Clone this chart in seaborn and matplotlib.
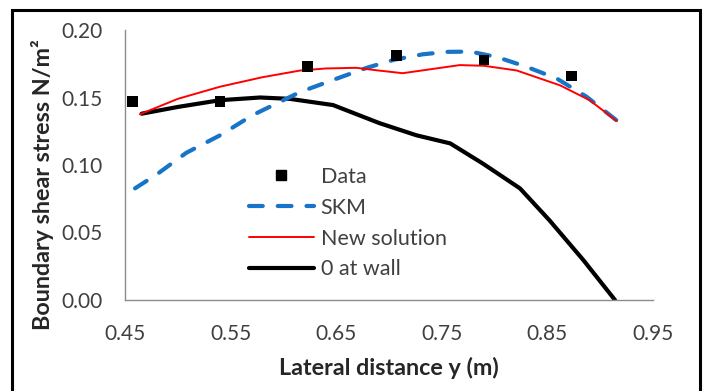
import matplotlib
matplotlib.use("Agg")
import matplotlib.pyplot as plt
import seaborn as sns
import pandas as pd
from matplotlib.patches import Rectangle
from matplotlib.lines import Line2D

# ---- data ----
data_x = [0.457, 0.540, 0.623, 0.707, 0.790, 0.873]
data_y = [0.147, 0.147, 0.173, 0.181, 0.178, 0.166]

skm_x = [0.4595, 0.48, 0.508, 0.540, 0.571, 0.6157, 0.647, 0.679, 0.705, 0.732,
         0.755, 0.777, 0.802, 0.830, 0.859, 0.887, 0.9156]
skm_y = [0.0827, 0.093, 0.109, 0.122, 0.137, 0.154, 0.163, 0.172, 0.178, 0.182,
         0.1838, 0.184, 0.180, 0.1728, 0.164, 0.1506, 0.133]

new_x = [0.4642, 0.50, 0.540, 0.58, 0.616, 0.64, 0.669, 0.69, 0.713, 0.74,
         0.767, 0.79, 0.821, 0.862, 0.89, 0.9156]
new_y = [0.1376, 0.149, 0.158, 0.165, 0.170, 0.1715, 0.172, 0.170, 0.168, 0.171,
         0.174, 0.1735, 0.170, 0.159, 0.148, 0.1326]

wall_x = [0.4658, 0.50, 0.540, 0.578, 0.606, 0.647, 0.691, 0.726, 0.758, 0.789,
          0.824, 0.852, 0.884, 0.914]
wall_y = [0.138, 0.143, 0.148, 0.150, 0.149, 0.1444, 0.131, 0.122, 0.116, 0.101,
          0.0827, 0.059, 0.0296, 0.0]

x_ticks = [0.45, 0.55, 0.65, 0.75, 0.85, 0.95]
y_ticks = [0.00, 0.05, 0.10, 0.15, 0.20]
x_label = "Lateral distance y (m)"
y_label = "Boundary shear stress N/m²"
labels = ["Data", "SKM", "New solution", "0 at wall"]

# ---- style ----
sns.set_style("white")
plt.rcParams["font.family"] = ["Lato", "DejaVu Sans"]

fig = plt.figure(figsize=(7.07, 3.91), dpi=100)
ax = fig.add_axes([125/707, 1-300/391, (653-125)/707, 270/391])

blue = "#1874C8"
red = "#FF0000"
dash = [3.3, 3.6]
df_skm = pd.DataFrame({"x": skm_x, "y": skm_y})
df_new = pd.DataFrame({"x": new_x, "y": new_y})
df_wall = pd.DataFrame({"x": wall_x, "y": wall_y})
df_data = pd.DataFrame({"x": data_x, "y": data_y})

sns.lineplot(data=df_wall, x="x", y="y", ax=ax, color="black", lw=3.0,
             sort=False, estimator=None, zorder=2)
sns.lineplot(data=df_skm, x="x", y="y", ax=ax, color=blue, lw=3.0,
             sort=False, estimator=None, zorder=3)
ax.lines[-1].set_dashes(dash)
ax.lines[-1].set_dash_capstyle("round")
sns.lineplot(data=df_new, x="x", y="y", ax=ax, color=red, lw=1.4,
             sort=False, estimator=None, zorder=4)
sns.scatterplot(data=df_data, x="x", y="y", ax=ax, color="black", marker="s",
                s=56, edgecolor="none", zorder=5)

ax.set_xlim(0.45, 0.95)
ax.set_ylim(0.0, 0.20)
ax.set_xticks(x_ticks)
ax.set_xticklabels([f"{v:.2f}" for v in x_ticks])
ax.set_yticks(y_ticks)
ax.set_yticklabels([f"{v:.2f}" for v in y_ticks])

for s in ["top", "right"]:
    ax.spines[s].set_visible(False)
for s in ["left", "bottom"]:
    ax.spines[s].set_color("#8C8C8C")
    ax.spines[s].set_linewidth(1.0)

ax.tick_params(axis="both", direction="out", length=6, width=1.0,
               color="#8C8C8C", labelsize=15, labelcolor="#404040")
ax.tick_params(axis="y", pad=10)
ax.tick_params(axis="x", pad=11)

ax.set_xlabel(x_label, fontsize=16.8, fontweight="bold", color="#262626")
ax.set_ylabel(y_label, fontsize=16.8, fontweight="bold", color="#262626")
ax.xaxis.set_label_coords(0.5, -0.212)
ax.yaxis.set_label_coords(-0.135, 0.428)

handles = [
    Line2D([], [], color="black", marker="s", linestyle="none", markersize=7.5),
    Line2D([], [], color=blue, lw=3.0, dashes=dash, dash_capstyle="round"),
    Line2D([], [], color=red, lw=1.4),
    Line2D([], [], color="black", lw=3.0),
]
leg = ax.legend(handles, labels, loc="upper left",
                bbox_to_anchor=((249-125)/528, (300-167)/270),
                frameon=False, fontsize=15.5, handlelength=3.0,
                handletextpad=0.33, labelspacing=0.5, borderaxespad=0,
                borderpad=0, labelcolor="#404040")

# figure border
fig.patches.append(Rectangle((12/707, -0.02), (700-12)/707, 1.02-10/391,
                             transform=fig.transFigure, fill=False,
                             edgecolor="black", lw=2.2, zorder=10))

fig.savefig("out.png", dpi=100)
